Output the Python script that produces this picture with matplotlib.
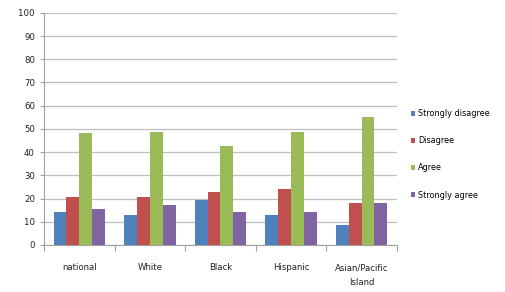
import numpy as np
import matplotlib
matplotlib.use("Agg")
import matplotlib.pyplot as plt

# survey responses by group (percent)
groups = ["national", "White", "Black", "Hispanic", "Asian/Pacific\nIsland"]
series = ["Strongly disagree", "Disagree", "Agree", "Strongly agree"]
strongly_disagree = [14.3, 12.8, 19.5, 12.8, 8.6]
disagree = [20.6, 20.6, 22.8, 24.0, 18.3]
agree = [48.2, 48.8, 42.7, 48.8, 55.0]
strongly_agree = [15.7, 17.2, 14.2, 14.2, 18.3]
colors = ["#4F81BD", "#C0504D", "#9BBB59", "#8064A2"]

plt.rcParams['font.family'] = ['DejaVu Sans']
plt.rcParams['font.stretch'] = 'condensed'

fig = plt.figure(figsize=(5.05, 2.92), dpi=100)
ax = fig.add_axes([0.087, 0.161, 0.699, 0.795])

x = np.arange(len(groups))
w = 1 / 5.5
values = [strongly_disagree, disagree, agree, strongly_agree]
for i in range(4):
    ax.bar(x + (i - 1.5) * w, values[i], width=w, color=colors[i], label=series[i], zorder=3)

ax.set_xlim(-0.5, len(groups) - 0.5)
ax.set_ylim(0, 100)
ax.set_yticks(range(0, 101, 10))
ax.yaxis.grid(True, color="#BFBFBF", linewidth=0.9, zorder=0)
for s in ["top", "right"]:
    ax.spines[s].set_visible(False)
ax.spines["left"].set_color("#A0A0A0")
ax.spines["bottom"].set_color("#A0A0A0")

ax.set_xticks(np.arange(-0.5, len(groups), 1.0), minor=False)
ax.set_xticklabels([])
ax.set_xticks(x, minor=True)
ax.set_xticklabels(groups, minor=True, fontsize=6.8, color="#222222", linespacing=1.9)
ax.tick_params(axis="x", which="major", length=4, color="#A0A0A0", direction="out")
ax.tick_params(axis="x", which="minor", length=0, pad=13)
ax.tick_params(axis="y", length=3, color="#A0A0A0", labelsize=6.8, labelcolor="#222222")

ax.legend(loc="center left", bbox_to_anchor=(1.025, 0.39), frameon=False, fontsize=6.5,
          handlelength=0.45, handleheight=0.45, handletextpad=0.35, labelspacing=2.0,
          borderaxespad=0.2)

fig.savefig("out.png", dpi=100)
